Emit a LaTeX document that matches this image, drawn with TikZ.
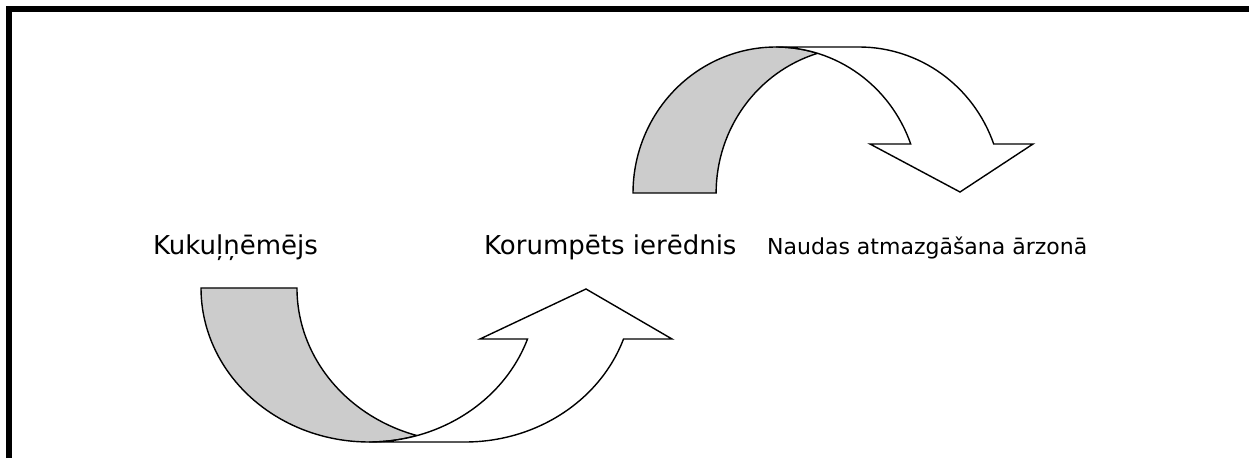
\documentclass[tikz,border=0pt]{standalone}
\usepackage{fontspec}
\setmainfont{DejaVu Sans}
\usetikzlibrary{calc}
\definecolor{colTailFill}{HTML}{CCCCCC}
\definecolor{colFrame}{HTML}{000000}

\begin{document}
\begin{tikzpicture}[x=1pt, y=1pt, font=\fontsize{26}{30}\selectfont,
  arrowline/.style={draw=black, line width=1.4pt, line join=miter},
  label/.style={anchor=base west, inner sep=0pt}]
  \useasboundingbox (0,0) rectangle (1249,458);

  % Frame (only left and top edges show)
  \draw[colFrame, line width=5.5pt] (9,0) -- (9,449) -- (1249,449);

  % Parameters
  \def\lowRx{168pt}
  \def\lowRy{154pt}
  \def\upRx{143pt}
  \def\upRy{146pt}

  % Lower arrow (curving up): back and front ellipse centres
  \coordinate (lowBack) at (369,170);
  \coordinate (lowFront) at (465,170);

  % Tail (grey)
  \fill[colTailFill, arrowline] ($(lowBack)+(180:168pt and 154pt)$)
    arc[start angle=180, end angle=286.6, x radius=\lowRx, y radius=\lowRy]
    arc[start angle=253.4, end angle=180, x radius=\lowRx, y radius=\lowRy] -- cycle;
  % Front band and head
  \fill[white, arrowline] ($(lowBack)+(270:168pt and 154pt)$)
    arc[start angle=270, end angle=340.66, x radius=\lowRx, y radius=\lowRy]
    -- (480,119) -- (586,169) -- (672,119)
    -- ($(lowFront)+(340.66:168pt and 154pt)$)
    arc[start angle=340.66, end angle=270, x radius=\lowRx, y radius=\lowRy] -- cycle;

  % Upper arrow (curving down)
  \coordinate (upBack) at (776,265);
  \coordinate (upFront) at (859,265);

  % Tail (grey)
  \fill[colTailFill, arrowline] ($(upBack)+(180:143pt and 146pt)$)
    arc[start angle=180, end angle=73.1, x radius=\upRx, y radius=\upRy]
    arc[start angle=106.9, end angle=180, x radius=\upRx, y radius=\upRy] -- cycle;
  % Front band and head
  \fill[white, arrowline] ($(upBack)+(90:143pt and 146pt)$)
    arc[start angle=90, end angle=19.6, x radius=\upRx, y radius=\upRy]
    -- (870,314) -- (960,266) -- (1033,314)
    -- ($(upFront)+(19.6:143pt and 146pt)$)
    arc[start angle=19.6, end angle=90, x radius=\upRx, y radius=\upRy] -- cycle;

  % Labels
  \node[label] (bribeTaker) at (153,203) {Kukuļņēmējs};
  \node[label] (official) at (484,203) {Korumpēts ierēdnis};
  \node[label, font=\fontsize{22}{26}\selectfont] (offshore) at (767,203) {Naudas atmazgāšana ārzonā};
\end{tikzpicture}
\end{document}
